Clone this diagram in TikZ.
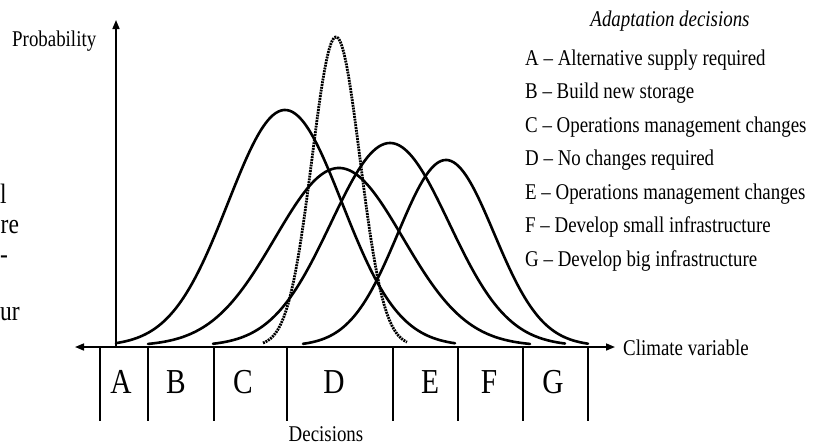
\documentclass[tikz,border=0pt]{standalone}
\usepackage{fontspec}
\setmainfont{Liberation Serif}[FakeStretch=0.84]
\usetikzlibrary{arrows.meta}
\tikzset{
  axisline/.style={line width=1.6pt, -{Triangle[length=9pt,width=7pt]}},
  tickline/.style={line width=1.1pt},
  curve/.style={line width=2.6pt, line cap=round, smooth, samples=120},
  dotcurve/.style={line width=2.8pt, dash pattern=on 1.9pt off 0.9pt, smooth, samples=120},
  lbl/.style={inner sep=0pt, anchor=base, font=\fontsize{22.5}{26}\selectfont},
  legend/.style={inner sep=0pt, anchor=base west, font=\fontsize{22.5}{26}\selectfont},
  boxletter/.style={inner sep=0pt, anchor=base, font=\fontsize{35}{40}\selectfont},
  frag/.style={inner sep=0pt, anchor=base west, font=\fontsize{28}{30}\selectfont},
}
\begin{document}
\begin{tikzpicture}[x=1pt,y=-1pt]
\useasboundingbox (0,0) rectangle (817,445);
% axes
\coordinate (O) at (116,347);
\coordinate (xl) at (75,347);
\coordinate (xr) at (615,347);
\coordinate (yt) at (116,20);
\draw[axisline,{Triangle[length=9pt,width=7pt]}-{Triangle[length=9pt,width=7pt]}] (xl) -- (xr);
\draw[axisline] (O) -- (yt);
% ticks
\foreach \n/\x in {t1/100,t2/148,t3/214,t4/287,t5/393,t6/458,t7/523,t8/588}{
  \coordinate (\n a) at (\x,347);
  \coordinate (\n b) at (\x,421);
  \draw[tickline] (\n a) -- (\n b);
}
% box letters
\node[boxletter] (lA) at (121,393) {A};
\node[boxletter] (lB) at (176,393) {B};
\node[boxletter] (lC) at (243,393) {C};
\node[boxletter] (lD) at (334,393) {D};
\node[boxletter] (lE) at (430,393) {E};
\node[boxletter] (lF) at (489,393) {F};
\node[boxletter] (lG) at (553,393) {G};
% axis labels
\node[lbl, anchor=base west] (prob) at (12,46) {Probability};
\node[lbl, anchor=base west] (clim) at (623,355) {Climate variable};
\node[lbl] (dec) at (326,441) {Decisions};
% curves
\draw[curve] plot[domain=116:455] (\x,{346-236*exp(-((\x-285)/57)^2/2)});
\draw[curve] plot[domain=148:530] (\x,{346-178*exp(-((\x-339)/64)^2/2)});
\draw[curve] plot[domain=213:565] (\x,{346-203*exp(-((\x-390)/59)^2/2)});
\draw[curve] plot[domain=303:588] (\x,{346-186*exp(-((\x-446)/48)^2/2)});
\draw[dotcurve] plot[domain=263:407] (\x,{346-309*exp(-((\x-336)/24)^2/2)});
% legend
\node[lbl, font=\fontsize{22.5}{26}\selectfont\itshape] (title) at (670,26) {Adaptation decisions};
\node[legend] (gA) at (525,65) {A -- Alternative supply required};
\node[legend] (gB) at (525,98.5) {B -- Build new storage};
\node[legend] (gC) at (525,132) {C -- Operations management changes};
\node[legend] (gD) at (525,165.5) {D -- No changes required};
\node[legend] (gE) at (525,199) {E -- Operations management changes};
\node[legend] (gF) at (525,232.5) {F -- Develop small infrastructure};
\node[legend] (gG) at (525,266) {G -- Develop big infrastructure};
% text fragments at the left edge
\node[frag] (f1) at (0,203) {l};
\node[frag] (f2) at (0.5,233) {re};
\node[frag] (f3) at (0,263) {-};
\node[frag] (f4) at (0,320) {ur};
\end{tikzpicture}
\end{document}
